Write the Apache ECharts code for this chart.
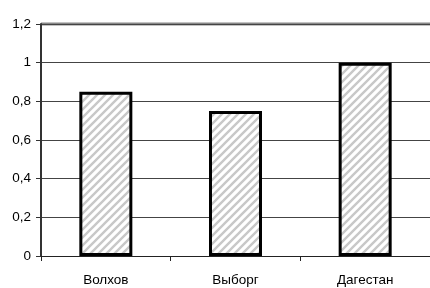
<!DOCTYPE html>
<html>
<head>
<meta charset="utf-8">
<script src="https://cdn.jsdelivr.net/npm/echarts@6/dist/echarts.min.js"></script>
<style>
  html, body { margin: 0; padding: 0; background: #fff; }
  #chart { width: 430px; height: 288px; }
</style>
</head>
<body>
<div id="chart"></div>
<script>
const categories = ['Волхов', 'Выборг', 'Дагестан'];
const values = [0.85, 0.75, 1.0];

// diagonal hatch tile
function makeHatch() {
  const c = document.createElement('canvas');
  c.width = 8; c.height = 8;
  const ctx = c.getContext('2d');
  ctx.fillStyle = '#ffffff';
  ctx.fillRect(0, 0, 8, 8);
  ctx.strokeStyle = '#c8c8c8';
  ctx.lineWidth = 2.4;
  ctx.beginPath();
  ctx.moveTo(-2, 10); ctx.lineTo(10, -2);
  ctx.moveTo(-6, 6); ctx.lineTo(6, -6);
  ctx.moveTo(2, 14); ctx.lineTo(14, 2);
  ctx.stroke();
  return c;
}

const chart = echarts.init(document.getElementById('chart'));
chart.setOption({
  animation: false,
  backgroundColor: '#fff',
  grid: { left: 41, right: 0, top: 24, bottom: 32 },
  xAxis: {
    type: 'category',
    data: categories,
    axisLine: { lineStyle: { color: '#222', width: 1 } },
    axisTick: { show: true, length: 5, lineStyle: { color: '#222' } },
    axisLabel: { color: '#000', fontFamily: 'Liberation Sans', fontSize: 13.5, margin: 17 }
  },
  yAxis: {
    type: 'value',
    min: 0, max: 1.2, interval: 0.2,
    axisLine: { show: true, lineStyle: { color: '#333', width: 2 } },
    axisTick: { show: true, length: 5, lineStyle: { color: '#333' } },
    axisLabel: {
      color: '#000', fontFamily: 'Liberation Sans', fontSize: 13.5, margin: 10,
      formatter: v => String(Math.round(v * 10) / 10).replace('.', ',')
    },
    splitLine: { lineStyle: { color: '#444', width: 1 } }
  },
  series: [{
    type: 'bar',
    data: values,
    barWidth: 53,
    itemStyle: {
      color: { image: makeHatch(), repeat: 'repeat' },
      borderColor: '#000',
      borderWidth: 3
    }
  }],
  graphic: [{
    type: 'line',
    shape: { x1: 41, y1: 24, x2: 430, y2: 24 },
    style: { stroke: '#888', lineWidth: 3 }
  }]
});
</script>
</body>
</html>
